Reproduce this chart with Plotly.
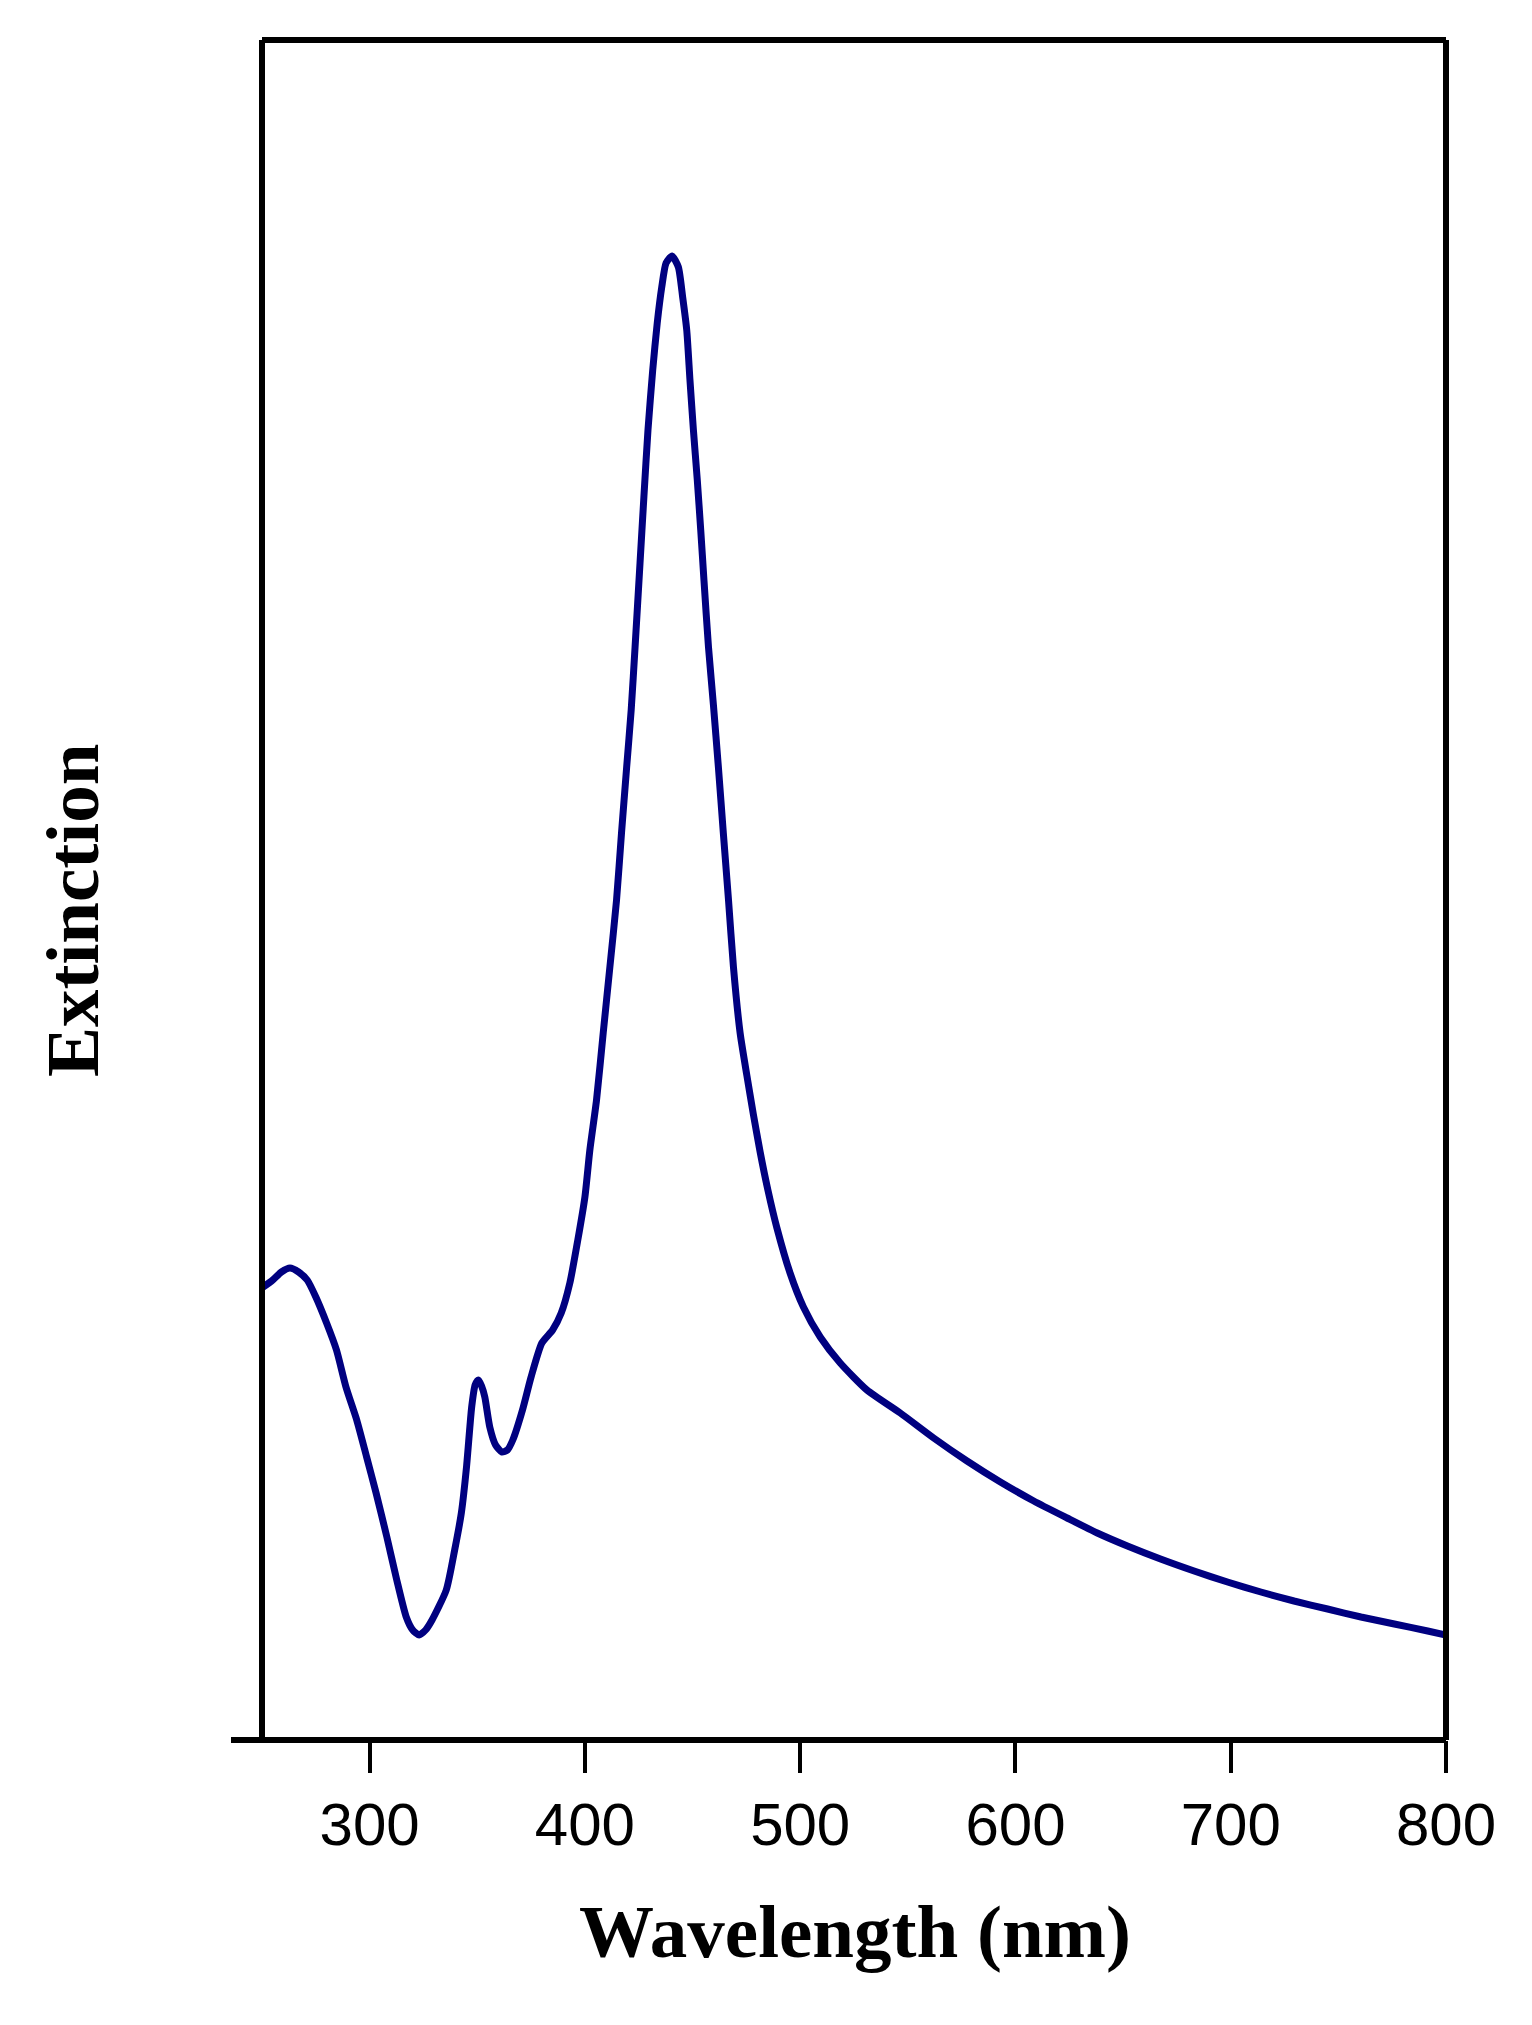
import plotly.graph_objects as go

# Wavelength (nm)
wavelength = [250, 255, 259, 263, 267, 271, 275, 280, 284.6, 289, 294, 298.6, 303, 308, 312.6, 317, 320, 323, 326, 329,
              335.6, 339.5, 342.6, 345, 347.4, 349, 350.5, 352, 353.5, 355.8, 358.5, 361.4, 364, 366.5, 371, 375, 380,
              385, 389, 393, 396.7, 400, 402.3, 405.4, 408.5, 411.6, 414.7, 417, 419.4, 421.5, 423.3, 425.6, 427.4,
              429.3, 431.5, 433.6, 435.7, 437.7, 440.5, 443.4, 445.4, 447.3, 448.8, 450.4, 452.2, 453.8, 455.3, 457.4,
              459.7, 462, 464.3, 466.7, 469, 472.1, 475.2, 478.3, 481.4, 485, 489.2, 495.3, 501.5, 509.3, 518.6, 531,
              546.5, 562, 577.5, 593, 608.5, 624, 638, 652, 667.4, 683, 698.5, 714, 729.4, 745, 760.5, 776, 791.5, 800]

# Extinction (arbitrary units)
extinction = [0.452, 0.460, 0.468, 0.472, 0.468, 0.460, 0.443, 0.417, 0.390, 0.353, 0.320, 0.283, 0.247, 0.203, 0.160,
              0.123, 0.110, 0.105, 0.110, 0.120, 0.150, 0.190, 0.227, 0.273, 0.333, 0.355, 0.360, 0.354, 0.343, 0.313,
              0.295, 0.288, 0.290, 0.300, 0.330, 0.363, 0.397, 0.410, 0.427, 0.457, 0.500, 0.543, 0.590, 0.640, 0.707,
              0.773, 0.840, 0.907, 0.973, 1.030, 1.093, 1.177, 1.243, 1.310, 1.370, 1.417, 1.453, 1.477, 1.484, 1.473,
              1.443, 1.410, 1.360, 1.310, 1.260, 1.210, 1.160, 1.093, 1.035, 0.973, 0.907, 0.840, 0.773, 0.707, 0.665,
              0.625, 0.588, 0.550, 0.512, 0.467, 0.433, 0.403, 0.377, 0.350, 0.327, 0.302, 0.279, 0.258, 0.239, 0.222,
              0.207, 0.194, 0.181, 0.169, 0.158, 0.148, 0.139, 0.131, 0.123, 0.116, 0.109, 0.105]

x_ticks = [300, 400, 500, 600, 700, 800]

fig = go.Figure()
fig.add_trace(go.Scatter(
    x=wavelength, y=extinction, mode="lines",
    line=dict(color="#000080", width=7, shape="spline", smoothing=0.6),
    showlegend=False,
))

# page body adds an 8px offset, so the figure is laid out 8px up/left
OFF = 8
W, H = 1532, 2025
L, R, T, B = 262 - OFF, 86 + OFF, 40 - OFF, 285 + OFF
pw = W - L - R
ph = H - T - B

def px_x(p):
    return (p - OFF - L) / pw

def px_y(p):
    return (H - B - (p - OFF)) / ph

black = "#000000"
lw = 6
shapes = [
    dict(type="line", xref="paper", yref="paper", x0=px_x(231), x1=1, y0=0, y1=0,
         line=dict(color=black, width=lw), layer="above"),
    dict(type="line", xref="paper", yref="paper", x0=0, x1=0, y0=0, y1=1,
         line=dict(color=black, width=lw), layer="above"),
    dict(type="line", xref="paper", yref="paper", x0=0, x1=1, y0=1, y1=1,
         line=dict(color=black, width=lw), layer="above"),
    dict(type="line", xref="paper", yref="paper", x0=1, x1=1, y0=0, y1=1,
         line=dict(color=black, width=lw), layer="above"),
]

annotations = [
    dict(text="<b>Wavelength (nm)</b>", xref="paper", yref="paper",
         x=px_x(855), y=px_y(1931), xanchor="center", yanchor="middle", showarrow=False,
         font=dict(family="Liberation Serif, Times New Roman, serif", size=75, color=black)),
    dict(text="<b>Extinction</b>", xref="paper", yref="paper",
         x=px_x(72), y=px_y(911), xanchor="center", yanchor="middle", showarrow=False,
         textangle=-90,
         font=dict(family="Liberation Serif, Times New Roman, serif", size=75, color=black)),
]

fig.update_layout(
    width=W, height=H,
    margin=dict(l=L, r=R, t=T, b=B, pad=0),
    paper_bgcolor="white", plot_bgcolor="white",
    shapes=shapes, annotations=annotations,
    xaxis=dict(range=[250, 800], tickvals=x_ticks, ticktext=[str(v) for v in x_ticks],
               ticks="outside", ticklen=32, tickwidth=4, tickcolor=black,
               showgrid=False, zeroline=False, showline=False,
               tickfont=dict(family="Liberation Sans, Arial, sans-serif", size=60, color=black)),
    yaxis=dict(range=[0, 1.7], showticklabels=False, ticks="", showgrid=False,
               zeroline=False, showline=False),
)

fig.write_html("out.html")
